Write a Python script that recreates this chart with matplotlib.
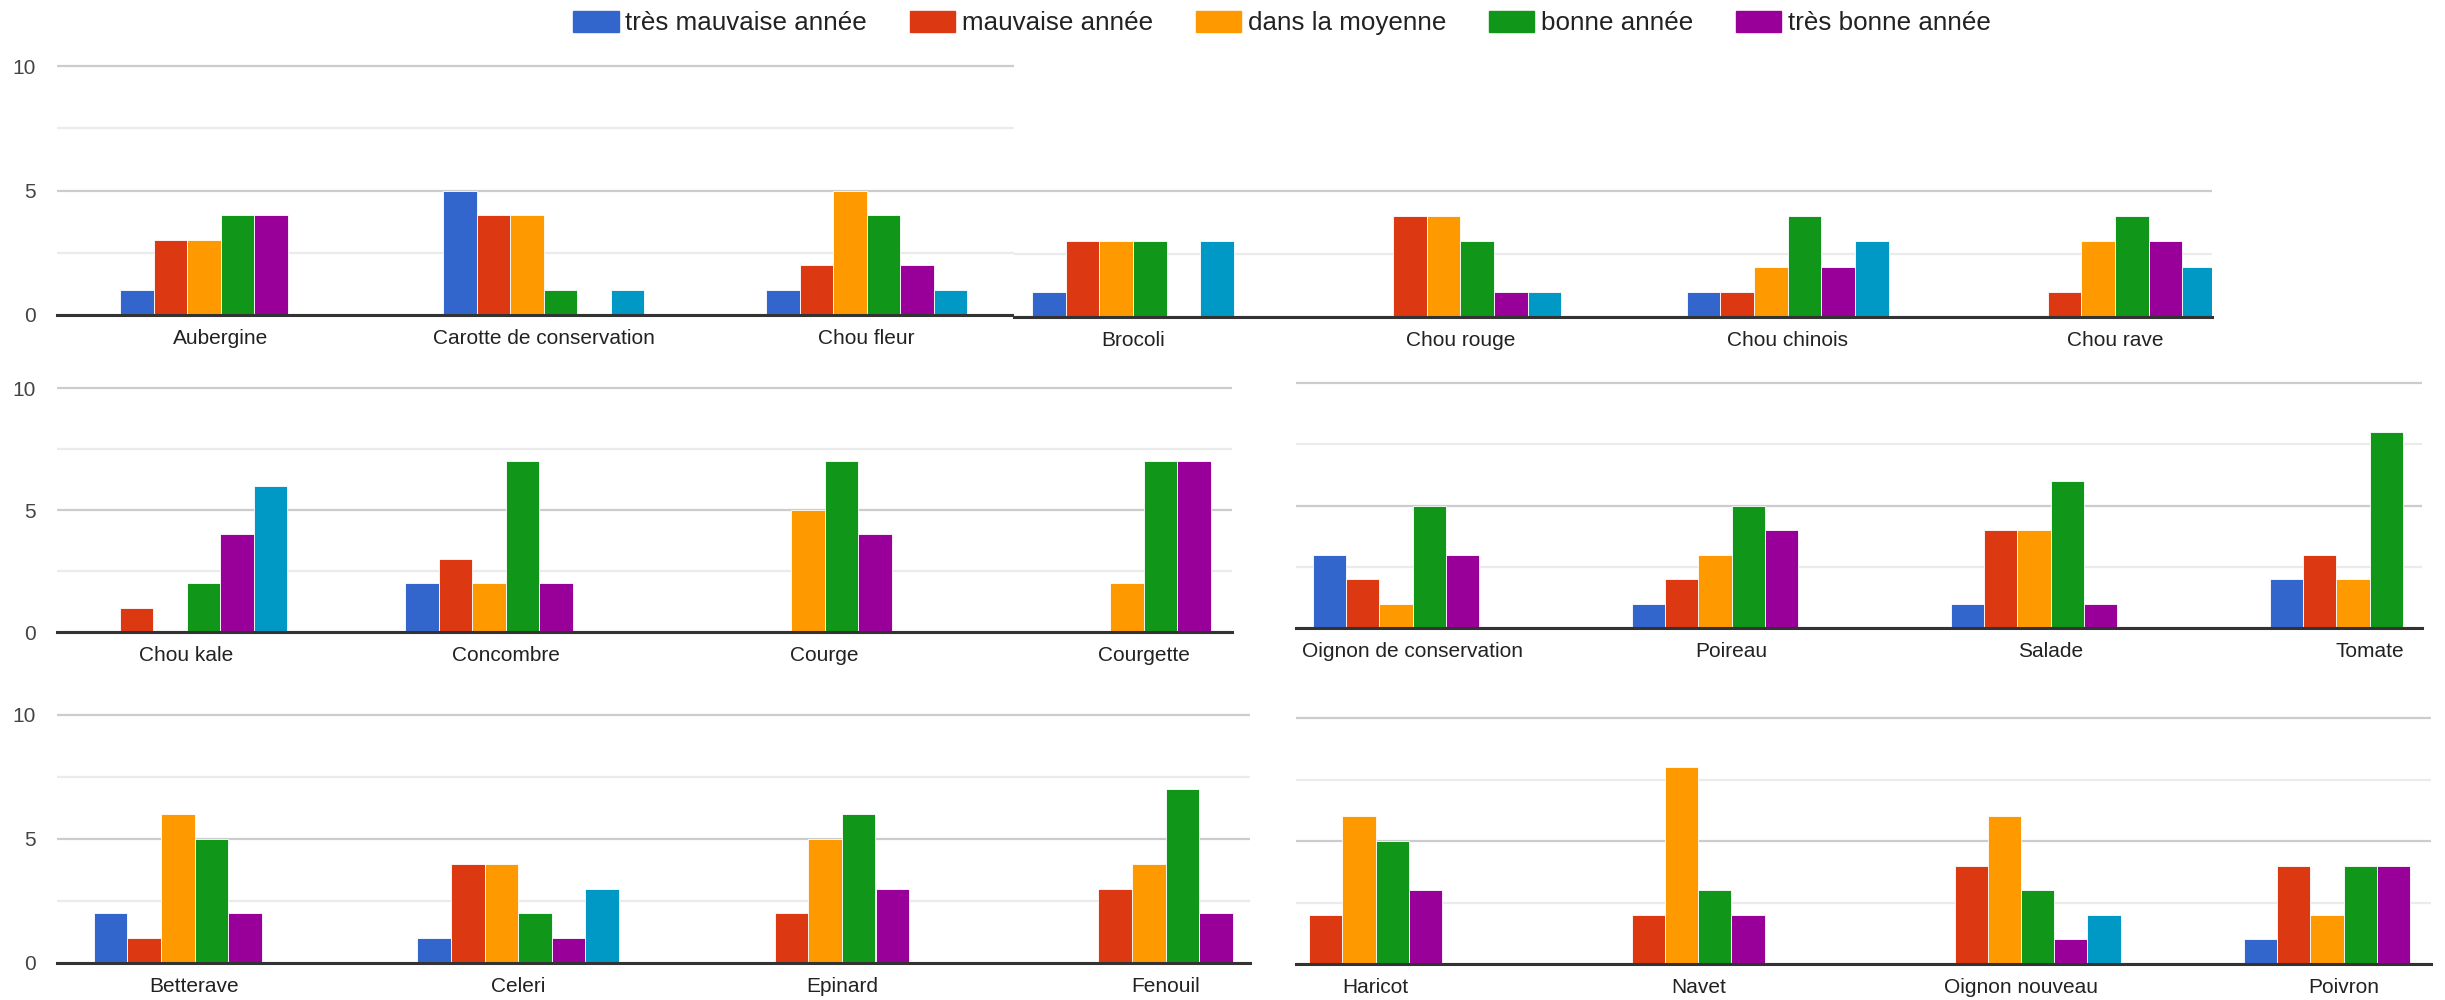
import matplotlib
matplotlib.use("Agg")
import matplotlib.pyplot as plt
from matplotlib.patches import Patch
import numpy as np

plt.rcParams['font.family'] = ['Liberation Sans', 'DejaVu Sans']

# series (the 6th one, teal, is not in the legend)
series = ["très mauvaise année", "mauvaise année", "dans la moyenne",
          "bonne année", "très bonne année", ""]
colors = ["#3366cc", "#dc3912", "#ff9900", "#109618", "#990099", "#0099c6"]

# one row per vegetable, one column per series
cats_a = ["Aubergine", "Carotte de conservation", "Chou fleur"]
vals_a = [[1, 3, 3, 4, 4, 0],
          [5, 4, 4, 1, 0, 1],
          [1, 2, 5, 4, 2, 1]]

cats_b = ["Brocoli", "Chou rouge", "Chou chinois", "Chou rave"]
vals_b = [[1, 3, 3, 3, 0, 3],
          [0, 4, 4, 3, 1, 1],
          [1, 1, 2, 4, 2, 3],
          [0, 1, 3, 4, 3, 2]]

cats_c = ["Chou kale", "Concombre", "Courge", "Courgette"]
vals_c = [[0, 1, 0, 2, 4, 6],
          [2, 3, 2, 7, 2, 0],
          [0, 0, 5, 7, 4, 0],
          [0, 0, 2, 7, 7, 0]]

cats_d = ["Oignon de conservation", "Poireau", "Salade", "Tomate"]
vals_d = [[3, 2, 1, 5, 3, 0],
          [1, 2, 3, 5, 4, 0],
          [1, 4, 4, 6, 1, 0],
          [2, 3, 2, 8, 0, 0]]

cats_e = ["Betterave", "Celeri", "Epinard", "Fenouil"]
vals_e = [[2, 1, 6, 5, 2, 0],
          [1, 4, 4, 2, 1, 3],
          [0, 2, 5, 6, 3, 0],
          [0, 3, 4, 7, 2, 0]]

cats_f = ["Haricot", "Navet", "Oignon nouveau", "Poivron"]
vals_f = [[0, 2, 6, 5, 3, 0],
          [0, 2, 8, 3, 2, 0],
          [0, 4, 6, 3, 1, 2],
          [1, 4, 2, 4, 4, 0]]

W, H = 2445, 1000

# layout of the six pasted panels, in pixels
layouts = [
    dict(left=57, right=1014, base=315, ppu=24.9, top=10.1, c0=220.5, step=323, pitch=33.5, ylab=True),
    dict(left=1014, right=2212, base=317, ppu=25.2, top=7.0, c0=1133, step=327.3, pitch=33.7, ylab=False),
    dict(left=57, right=1232, base=632, ppu=24.4, top=10.1, c0=186.5, step=319, pitch=33.5, ylab=True),
    dict(left=1296, right=2422, base=628, ppu=24.5, top=10.1, c0=1412.5, step=319, pitch=33.2, ylab=False),
    dict(left=57, right=1250, base=963, ppu=24.8, top=10.1, c0=194.5, step=323.7, pitch=33.6, ylab=True),
    dict(left=1296, right=2431, base=964, ppu=24.6, top=10.1, c0=1375.5, step=322.7, pitch=33.2, ylab=False),
]
panels = [(cats_a, vals_a), (cats_b, vals_b), (cats_c, vals_c),
          (cats_d, vals_d), (cats_e, vals_e), (cats_f, vals_f)]

fig = plt.figure(figsize=(W / 100, H / 100), dpi=100)

for (cats, vals), lo in zip(panels, layouts):
    rect = [lo["left"] / W, 1 - lo["base"] / H,
            (lo["right"] - lo["left"]) / W, lo["top"] * lo["ppu"] / H]
    ax = fig.add_axes(rect)
    vals = np.array(vals)
    x = np.arange(len(cats))
    w = lo["pitch"] / lo["step"]
    for j in range(vals.shape[1]):
        ax.bar(x + (j - 2.5) * w, vals[:, j], width=w, color=colors[j],
               edgecolor="white", linewidth=0.6)

    ax.set_yticks([0, 5, 10])
    ax.set_yticks([2.5, 7.5], minor=True)
    # limits after the ticks, set_yticks would widen them otherwise
    ax.set_xlim((lo["left"] - lo["c0"]) / lo["step"], (lo["right"] - lo["c0"]) / lo["step"])
    ax.set_ylim(0, lo["top"])
    ax.set_axisbelow(True)
    ax.grid(axis="y", which="major", color="#cccccc", linewidth=1.6)
    ax.grid(axis="y", which="minor", color="#ebebeb", linewidth=1.6)

    ax.set_xticks(x)
    ax.set_xticklabels(cats, fontsize=15, color="#222222")
    ax.tick_params(axis="x", length=0, pad=10)
    ax.tick_params(axis="y", which="both", length=0, pad=15,
                   labelsize=15, labelcolor="#444444", labelleft=lo["ylab"])

    for side in ["left", "right", "top"]:
        ax.spines[side].set_visible(False)
    ax.spines["bottom"].set_color("#333333")
    ax.spines["bottom"].set_linewidth(2.2)

handles = [Patch(color=c) for c in colors[:5]]
fig.legend(handles, series[:5], loc="center", bbox_to_anchor=(1282 / W, 1 - 23 / H),
           ncol=5, frameon=False, fontsize=18.7, handlelength=1.75, handleheight=0.9,
           handletextpad=0.25, columnspacing=1.65, labelcolor="#222222")

fig.savefig("out.png", dpi=100)
